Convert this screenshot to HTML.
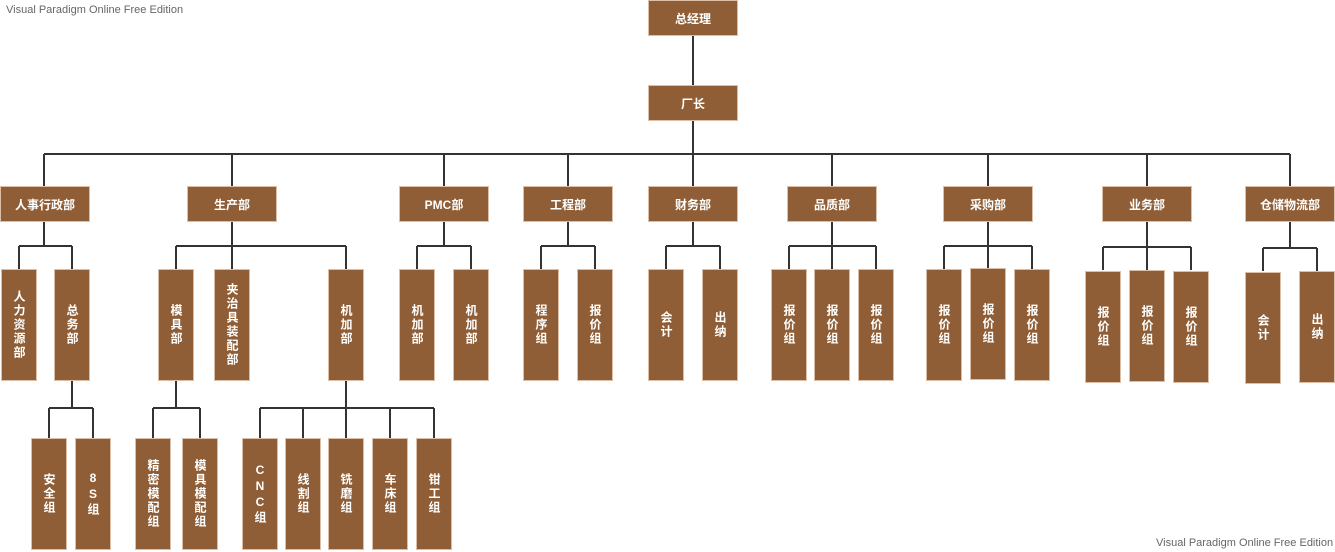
<!DOCTYPE html>
<html><head><meta charset="utf-8"><style>
body{margin:0;width:1335px;height:552px;position:relative;background:#fff;overflow:hidden;font-family:"Liberation Sans","Noto Sans CJK SC",sans-serif;}
.b{position:absolute;box-sizing:border-box;background:#8f5e36;border:1px solid #dcbfa6;color:#fff;font-size:12px;font-weight:bold;display:flex;align-items:center;justify-content:center;}
.h{height:36px;width:90px;top:186px}
.v{width:36px;height:112px;writing-mode:vertical-lr;text-orientation:upright;letter-spacing:2px;line-height:36px}
.l3{top:269px}.l4{top:438px}
.wm{position:absolute;font-size:11px;color:#666}
</style></head><body>
<div class="wm" style="left:6px;top:4px">Visual Paradigm Online Free Edition</div>
<div class="wm" style="left:1156px;top:537px">Visual Paradigm Online Free Edition</div>
<svg width="1335" height="552" style="position:absolute;left:0;top:0" fill="none" stroke="#333" stroke-width="2">
<path d="M693 36V85M693 121V154M44 154H1290"/>
<path d="M44 154V186M232 154V186M444 154V186M568 154V186M693 154V186M832 154V186M988 154V186M1147 154V186M1290 154V186"/>
<path d="M44 222V246M19 246H72M19 246V269M72 246V269"/>
<path d="M232 222V246M176 246H346M176 246V269M232 246V269M346 246V269"/>
<path d="M444 222V246M417 246H471M417 246V269M471 246V269"/>
<path d="M568 222V246M541 246H595M541 246V269M595 246V269"/>
<path d="M693 222V246M666 246H720M666 246V269M720 246V269"/>
<path d="M832 222V246M789 246H876M789 246V269M832 246V269M876 246V269"/>
<path d="M988 222V246M944 246H1032M944 246V269M988 246V269M1032 246V269"/>
<path d="M1147 222V247M1103 247H1191M1103 247V270M1147 247V270M1191 247V270"/>
<path d="M1290 222V248M1263 248H1317M1263 248V271M1317 248V271"/>
<path d="M72 381V408M49 408H93M49 408V438M93 408V438"/>
<path d="M176 381V408M153 408H200M153 408V438M200 408V438"/>
<path d="M346 381V408M260 408H434M260 408V438M303 408V438M346 408V438M390 408V438M434 408V438"/>
</svg>
<div class="b" style="left:648px;top:0;width:90px;height:36px">总经理</div>
<div class="b" style="left:648px;top:85px;width:90px;height:36px">厂长</div>
<div class="b h" style="left:0">人事行政部</div>
<div class="b h" style="left:187px">生产部</div>
<div class="b h" style="left:399px">PMC部</div>
<div class="b h" style="left:523px">工程部</div>
<div class="b h" style="left:648px">财务部</div>
<div class="b h" style="left:787px">品质部</div>
<div class="b h" style="left:943px">采购部</div>
<div class="b h" style="left:1102px">业务部</div>
<div class="b h" style="left:1245px">仓储物流部</div>

<div class="b v l3" style="left:1px">人力资源部</div>
<div class="b v l3" style="left:54px">总务部</div>
<div class="b v l3" style="left:158px">模具部</div>
<div class="b v l3" style="left:214px">夹治具装配部</div>
<div class="b v l3" style="left:328px">机加部</div>
<div class="b v l3" style="left:399px">机加部</div>
<div class="b v l3" style="left:453px">机加部</div>
<div class="b v l3" style="left:523px">程序组</div>
<div class="b v l3" style="left:577px">报价组</div>
<div class="b v l3" style="left:648px">会计</div>
<div class="b v l3" style="left:702px">出纳</div>
<div class="b v l3" style="left:771px">报价组</div>
<div class="b v l3" style="left:814px">报价组</div>
<div class="b v l3" style="left:858px">报价组</div>
<div class="b v l3" style="left:926px">报价组</div>
<div class="b v l3" style="left:970px;top:268px">报价组</div>
<div class="b v l3" style="left:1014px">报价组</div>
<div class="b v" style="left:1085px;top:271px">报价组</div>
<div class="b v" style="left:1129px;top:270px">报价组</div>
<div class="b v" style="left:1173px;top:271px">报价组</div>
<div class="b v" style="left:1245px;top:272px">会计</div>
<div class="b v" style="left:1299px;top:271px">出纳</div>

<div class="b v l4" style="left:31px">安全组</div>
<div class="b v l4" style="left:75px">8S组</div>
<div class="b v l4" style="left:135px">精密模配组</div>
<div class="b v l4" style="left:182px">模具模配组</div>
<div class="b v l4" style="left:242px">CNC组</div>
<div class="b v l4" style="left:285px">线割组</div>
<div class="b v l4" style="left:328px">铣磨组</div>
<div class="b v l4" style="left:372px">车床组</div>
<div class="b v l4" style="left:416px">钳工组</div>
</body></html>
